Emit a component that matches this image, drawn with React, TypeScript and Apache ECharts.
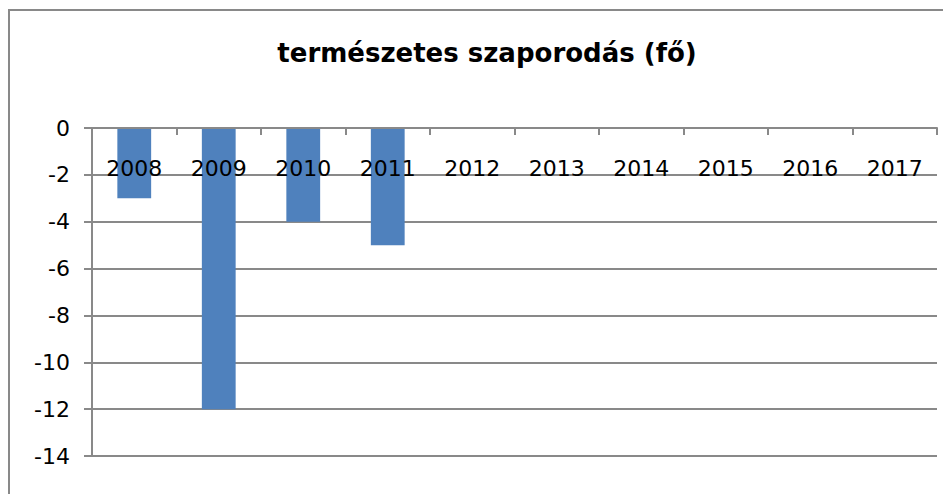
import React, { useEffect, useRef } from "react";
import * as echarts from "echarts";

const titleText = "természetes szaporodás (fő)";
const years = ["2008", "2009", "2010", "2011", "2012", "2013", "2014", "2015", "2016", "2017"];
const values: (number | null)[] = [-3, -12, -4, -5, null, null, null, null, null, null];
const yMin = -14;
const yMax = 0;
const yStep = 2;

const GRAY = "#898989";
const FONT = "DejaVu Sans";

export default function App() {
  const ref = useRef<HTMLDivElement>(null);
  useEffect(() => {
    if (!ref.current) return;
    const chart = echarts.init(ref.current, null, { renderer: "svg" });
    chart.setOption({
      animation: false,
      backgroundColor: "#ffffff",
      title: {
        text: titleText,
        left: 482,
        textAlign: "center",
        top: 35,
        textStyle: { fontFamily: FONT, fontWeight: "bold", fontSize: 26, color: "#000" },
      },
      graphic: [
        {
          type: "rect",
          shape: { x: 9, y: 10, width: 1200, height: 1200 },
          style: { fill: "none", stroke: GRAY, lineWidth: 2 },
          silent: true,
        },
      ],
      grid: { left: 92, top: 128, right: 6, bottom: 38, containLabel: false, outerBoundsMode: "none" },
      xAxis: {
        type: "category",
        data: years,
        position: "top",
        z: 5,
        axisLine: { onZero: false, lineStyle: { color: GRAY, width: 2 } },
        axisTick: { show: true, length: 7, inside: true, lineStyle: { color: GRAY, width: 2 } },
        axisLabel: { inside: true, margin: 29, fontFamily: FONT, fontSize: 22, color: "#000" },
        splitLine: { show: false },
      },
      yAxis: {
        type: "value",
        min: yMin,
        max: yMax,
        interval: yStep,
        axisLine: { show: true, lineStyle: { color: GRAY, width: 2 } },
        axisTick: { show: true, length: 8, lineStyle: { color: GRAY, width: 2 } },
        axisLabel: { margin: 22, fontFamily: FONT, fontSize: 22, color: "#000" },
        splitLine: { show: true, lineStyle: { color: GRAY, width: 2 } },
      },
      series: [
        {
          type: "bar",
          data: values,
          barWidth: "40%",
          itemStyle: { color: "#4f81bd" },
        },
      ],
    });
    return () => chart.dispose();
  }, []);
  return (
    <div
      ref={ref}
      style={{ position: "fixed", left: 0, top: 0, width: 943, height: 494, background: "#fff" }}
    />
  );
}
